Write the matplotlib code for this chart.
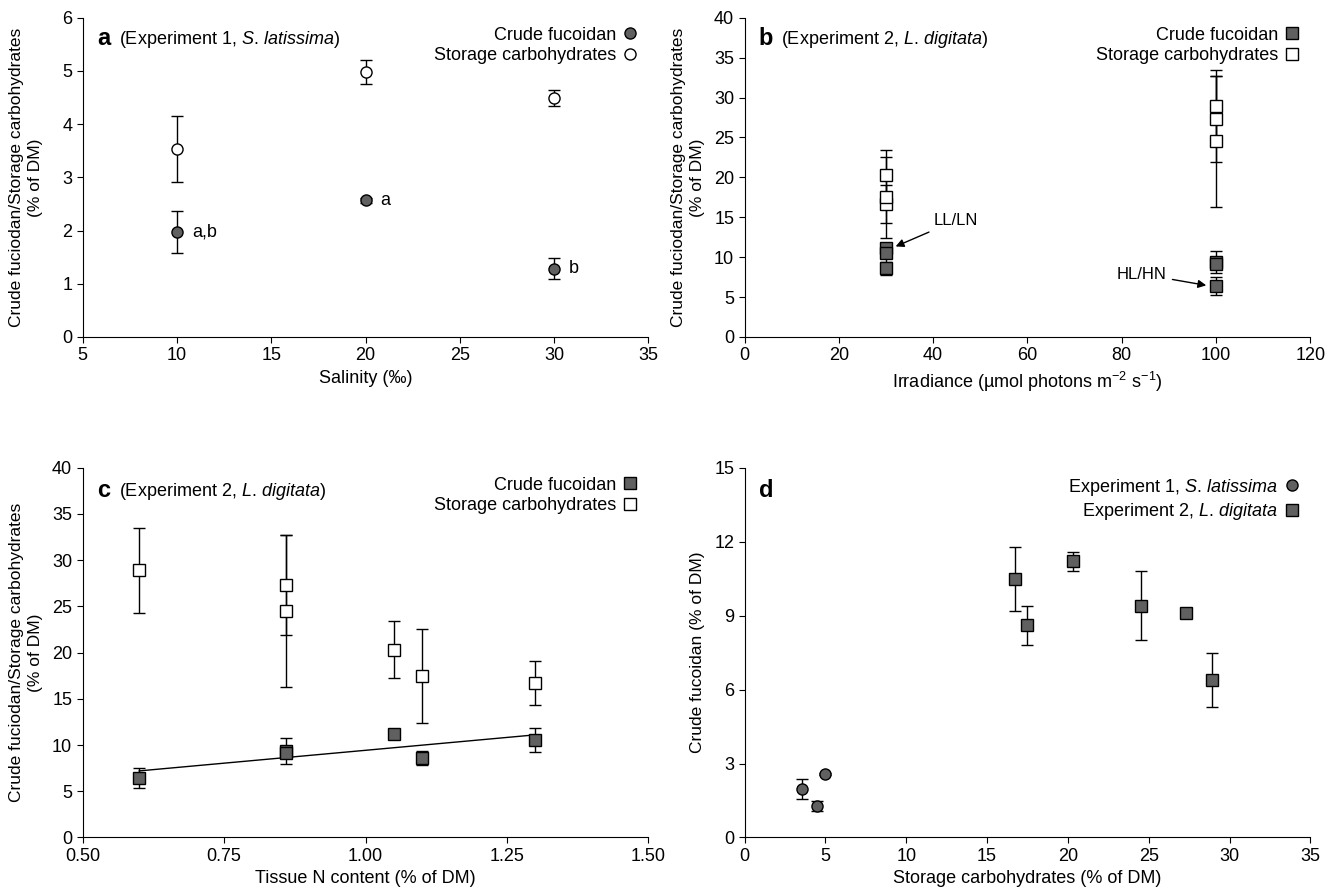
import matplotlib
matplotlib.use("Agg")
import matplotlib.pyplot as plt

plt.rcParams['font.family'] = ['Liberation Sans', 'DejaVu Sans']
plt.rcParams['font.size'] = 13
plt.rcParams['mathtext.fontset'] = 'custom'
plt.rcParams['mathtext.rm'] = 'Liberation Sans'
plt.rcParams['mathtext.it'] = 'Liberation Sans:italic'

# Panel a
sal = [10, 20, 30]
fuc_a = [1.97, 2.57, 1.28]; fuc_a_err = [0.40, 0.05, 0.20]
sto_a = [3.53, 4.98, 4.50]; sto_a_err = [0.62, 0.23, 0.15]
sig_a = ['a,b', 'a', 'b']

# Panels b, c, d (six treatments)
irr = [30, 30, 30, 100, 100, 100]
tissN = [1.05, 1.30, 1.10, 0.86, 0.86, 0.60]
fuc_b = [11.2, 10.5, 8.6, 9.4, 9.1, 6.4]; fuc_b_err = [0.4, 1.3, 0.8, 1.4, 0.2, 1.1]
sto_b = [20.3, 16.7, 17.5, 24.5, 27.3, 28.9]; sto_b_err = [3.1, 2.4, 5.1, 8.2, 5.4, 4.6]
line_x = [0.60, 1.30]; line_y = [7.2, 11.1]

dark = '#606060'
fig, axs = plt.subplots(2, 2, figsize=(13.33, 8.89), dpi=100,
                        gridspec_kw=dict(height_ratios=[322, 373]))
ylab = 'Crude fuciodan/Storage carbohydrates\n(% of DM)'

def style(ax):
    ax.spines['top'].set_visible(False)
    ax.spines['right'].set_visible(False)
    ax.tick_params(direction='out', length=4, labelsize=13)

ebk = dict(ls='none', ecolor='black', elinewidth=1, capsize=4, markeredgecolor='black', markersize=8)

def hdr(ax, letter, exp, sp):
    ax.text(0.025, 0.97, letter, transform=ax.transAxes, fontsize=17, fontweight='bold', va='top')
    ax.text(0.065, 0.965, '(Experiment %d, $\\it{%s}$)' % (exp, sp.replace(' ', '\\,')),
            transform=ax.transAxes, fontsize=13, va='top')

def leg(ax, m, labels, fills):
    ax.legend(handles=[plt.Line2D([], [], marker=m, ls='none', mfc=f, mec='black', markersize=8, label=l)
                       for l, f in zip(labels, fills)],
              loc='upper right', frameon=False, markerfirst=False, handletextpad=0.3,
              borderaxespad=0.1, fontsize=13, labelspacing=0.2, handlelength=1)

def ylabel(ax, txt):
    ax.set_ylabel(txt, fontsize=12.5, linespacing=1.3)
    ax.yaxis.set_label_coords(-0.07, 0.5)

# a
ax = axs[0, 0]; style(ax)
ax.errorbar(sal, sto_a, yerr=sto_a_err, marker='o', mfc='white', **ebk)
ax.errorbar(sal, fuc_a, yerr=fuc_a_err, marker='o', mfc=dark, **ebk)
for x, y, s in zip(sal, fuc_a, sig_a):
    ax.text(x + 0.8, y, s, va='center', fontsize=13)
ax.set_xlim(5, 35); ax.set_ylim(0, 6)
ax.set_xticks(range(5, 36, 5)); ax.set_yticks(range(0, 7))
ax.set_xlabel('Salinity (‰)'); ylabel(ax, ylab)
hdr(ax, 'a', 1, 'S. latissima')
leg(ax, 'o', ['Crude fucoidan', 'Storage carbohydrates'], [dark, 'white'])

# b
ax = axs[0, 1]; style(ax)
ax.errorbar(irr, sto_b, yerr=sto_b_err, marker='s', mfc='white', **ebk)
ax.errorbar(irr, fuc_b, yerr=fuc_b_err, marker='s', mfc=dark, **ebk)
ax.annotate('LL/LN', xy=(31.5, 11.2), xytext=(40, 14), fontsize=12,
            arrowprops=dict(arrowstyle='-|>', color='black', lw=1))
ax.annotate('HL/HN', xy=(98.5, 6.4), xytext=(79, 7.3), fontsize=12,
            arrowprops=dict(arrowstyle='-|>', color='black', lw=1))
ax.set_xlim(0, 120); ax.set_ylim(0, 40)
ax.set_xticks(range(0, 121, 20)); ax.set_yticks(range(0, 41, 5))
ax.set_xlabel('Irradiance (µmol photons m$^{-2}$ s$^{-1}$)'); ylabel(ax, ylab)
hdr(ax, 'b', 2, 'L. digitata')
leg(ax, 's', ['Crude fucoidan', 'Storage carbohydrates'], [dark, 'white'])

# c
ax = axs[1, 0]; style(ax)
ax.errorbar(tissN, sto_b, yerr=sto_b_err, marker='s', mfc='white', **ebk)
ax.errorbar(tissN, fuc_b, yerr=fuc_b_err, marker='s', mfc=dark, **ebk)
ax.plot(line_x, line_y, color='black', lw=1)
ax.set_xlim(0.5, 1.5); ax.set_ylim(0, 40)
ax.set_xticks([0.5, 0.75, 1.0, 1.25, 1.5]); ax.set_xticklabels(['0.50', '0.75', '1.00', '1.25', '1.50'])
ax.set_yticks(range(0, 41, 5))
ax.set_xlabel('Tissue N content (% of DM)'); ylabel(ax, ylab)
hdr(ax, 'c', 2, 'L. digitata')
leg(ax, 's', ['Crude fucoidan', 'Storage carbohydrates'], [dark, 'white'])

# d
ax = axs[1, 1]; style(ax)
ax.errorbar(sto_a, fuc_a, yerr=fuc_a_err, marker='o', mfc=dark, **ebk)
ax.errorbar(sto_b, fuc_b, yerr=fuc_b_err, marker='s', mfc=dark, **ebk)
ax.set_xlim(0, 35); ax.set_ylim(0, 15)
ax.set_xticks(range(0, 36, 5)); ax.set_yticks(range(0, 16, 3))
ax.set_xlabel('Storage carbohydrates (% of DM)'); ylabel(ax, 'Crude fucoidan (% of DM)')
ax.text(0.025, 0.97, 'd', transform=ax.transAxes, fontsize=17, fontweight='bold', va='top')
leg(ax, 'o', ['Experiment 1, $\\it{S.\\,latissima}$', 'Experiment 2, $\\it{L.\\,digitata}$'], [dark, dark])
ax.get_legend().legend_handles[1].set_marker('s')

fig.subplots_adjust(left=0.062, right=0.983, top=0.98, bottom=0.058, wspace=0.17, hspace=0.38)
fig.savefig('out.png', dpi=100)
